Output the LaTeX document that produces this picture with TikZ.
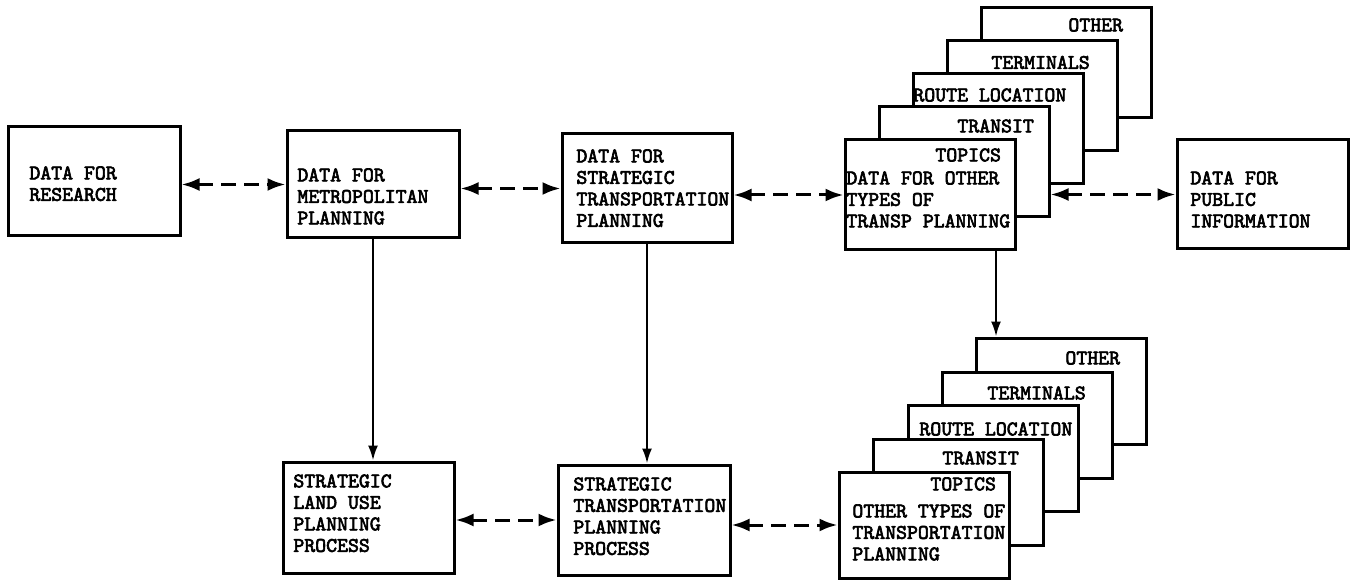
\documentclass[tikz,border=0pt]{standalone}
\usepackage{fontspec}
\newfontfamily\typewriter{Latin Modern Mono}[FakeBold=3]
\usetikzlibrary{arrows.meta,calc}
\begin{document}
\begin{tikzpicture}[x=0.5pt,y=-0.5pt,
  box/.style={draw, line width=1.5pt, fill=white, inner sep=0pt},
  txt/.style={font=\typewriter\fontsize{10.4pt}{10.75pt}\selectfont,
    align=left, inner sep=0pt, anchor=north west},
  link/.style={line width=1.5pt, dash pattern=on 7.5pt off 4pt,
    >={Latex[length=9pt,width=6.5pt]}, <->},
  feed/.style={line width=1.1pt, -{Latex[length=7.5pt,width=5pt]}}]

% page
\fill[white] (0,0) rectangle (1352,582);
\useasboundingbox (0,0) rectangle (1352,582);

% --- upper row -------------------------------------------------------
\node[box, minimum width=86pt, minimum height=54.5pt] (A) at (94,181.5) {};
\node[txt] (At) at (29,166) {DATA FOR\\RESEARCH};

\node[box, minimum width=86pt, minimum height=53.5pt] (B) at (373,184.5) {};
\node[txt] (Bt) at (297,168) {DATA FOR\\METROPOLITAN\\PLANNING};

\node[box, minimum width=85pt, minimum height=54.5pt] (C) at (647,188.5) {};
\node[txt] (Ct) at (576,149) {DATA FOR\\STRATEGIC\\TRANSPORTATION\\PLANNING};

\node[box, minimum width=85.5pt, minimum height=54.5pt] (D) at (1262.5,194.5) {};
\node[txt] (Dt) at (1190,171) {DATA FOR\\PUBLIC\\INFORMATION};

% upper stack of topic sheets, back to front
\node[box, minimum width=85pt, minimum height=55pt] (U4) at (1066,63) {};
\node[txt] (U4t) at (1068,18) {OTHER};
\node[box, minimum width=85pt, minimum height=55pt] (U3) at (1032,96) {};
\node[txt] (U3t) at (991,55.5) {TERMINALS};
\node[box, minimum width=85pt, minimum height=55pt] (U2) at (998,129) {};
\node[txt] (U2t) at (913,88) {ROUTE LOCATION};
\node[box, minimum width=85pt, minimum height=55pt] (U1) at (964,162) {};
\node[txt] (U1t) at (957,119) {TRANSIT};
\node[box, minimum width=85pt, minimum height=55pt] (U0) at (930,195) {};
\node[txt] (U0h) at (935,148) {TOPICS};
\node[txt] (U0t) at (846,171) {DATA FOR OTHER\\TYPES OF\\TRANSP PLANNING};

% --- lower row -------------------------------------------------------
\node[box, minimum width=85.5pt, minimum height=55.5pt] (E) at (368.5,517.5) {};
\node[txt] (Et) at (293,474) {STRATEGIC\\LAND USE\\PLANNING\\PROCESS};

\node[box, minimum width=86pt, minimum height=55pt] (F) at (644,520) {};
\node[txt] (Ft) at (573,477) {STRATEGIC\\TRANSPORTATION\\PLANNING\\PROCESS};

% lower stack of topic sheets, back to front
\node[box, minimum width=85pt, minimum height=53pt] (L4) at (1061,391) {};
\node[txt] (L4t) at (1065,351) {OTHER};
\node[box, minimum width=85pt, minimum height=53pt] (L3) at (1027,425) {};
\node[txt] (L3t) at (987,386) {TERMINALS};
\node[box, minimum width=85pt, minimum height=53pt] (L2) at (993,458.5) {};
\node[txt] (L2t) at (919,422) {ROUTE LOCATION};
\node[box, minimum width=85pt, minimum height=53pt] (L1) at (958.5,492) {};
\node[txt] (L1t) at (942,451) {TRANSIT};
\node[box, minimum width=85pt, minimum height=53pt] (L0) at (924,525) {};
\node[txt] (L0h) at (930,477) {TOPICS};
\node[txt] (L0t) at (852,504) {OTHER TYPES OF\\TRANSPORTATION\\PLANNING};

% --- connectors ------------------------------------------------------
\draw[link] (A.east |- B.west) -- (B.west);
\draw[link] (B.east |- C.west) -- (C.west);
\draw[link] (C.east |- U0.west) -- (U0.west);
\draw[link] (U1.east |- D.west) -- (D.west);
\draw[link] (E.east |- F.west) -- (F.west);
\draw[link] (F.east |- L0.west) -- (L0.west);

\draw[feed] (B.south) -- (B.south |- E.north);
\draw[feed] (C.south) -- (C.south |- F.north);
\coordinate (drop) at (996,300);
\draw[feed] (U0.south -| drop) -- (L4.north -| drop);
\end{tikzpicture}
\end{document}
